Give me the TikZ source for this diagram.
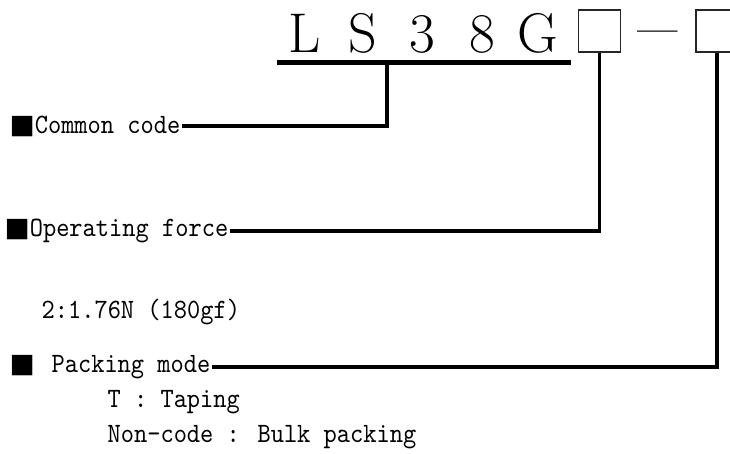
\documentclass[tikz,border=0pt]{standalone}
\usepackage{fontspec}
\newfontfamily\symfont{DejaVu Sans}
\newfontfamily\codefont{lmmono10-regular}[Extension=.otf, FakeStretch=0.9]
\usetikzlibrary{positioning,calc}
\tikzset{
	lbl/.style={
		inner sep=1pt,
		font=\codefont\fontsize{21}{24}\selectfont
	},
	codebox/.style={draw=black!85, line width=1pt, minimum size=31.5pt, inner sep=0pt},
	letter/.style={inner sep=0pt, anchor=base, font=\fontsize{42}{46}\selectfont},
	lead/.style={line width=2.3pt, black}
}
\newcommand{\sqmark}{{\symfont\fontsize{20}{22}\selectfont ■}}

\begin{document}
\begin{tikzpicture}[x=0.75pt, y=-0.75pt]
		\useasboundingbox (0,0) rectangle (730,453);
		% part number
		\foreach \ch/\xc [count=\i] in {L/305,S/363,3/422,8/482,G/538}
			\node[letter] (c\i) at (\xc,52) {\ch};
		\coordinate (barL) at (277,62.5);
		\coordinate (barR) at (571,62.5);
		\coordinate (tap) at (387,62.5);
		\draw[line width=3.75pt] (barL) -- (barR);
		\node[codebox] (gbox) at (599.5,31) {};
		\node[inner sep=0pt, anchor=base, font=\bfseries\fontsize{27}{27}\selectfont] (dash) at (657.5,41.5) {---};
		\node[codebox] (pbox) at (717,31) {};
		% legend
		\node[lbl, anchor=west] (common) at (8,126) {\sqmark Common code};
		\draw[lead] (common.east) -| (tap);
		\node[lbl, anchor=west] (force) at (3,231) {\sqmark Operating force};
		\draw[lead] (force.east) -| (gbox.south);
		\node[lbl, anchor=base west] (forceval) at (40,318) {2:1.76N (180gf)};
		\node[lbl, anchor=west] (packing) at (8,367) {\sqmark\hspace{0.6em}Packing mode};
		\draw[lead] (packing.east) -| (pbox.south);
		\node[lbl, anchor=west] (taping) at (106,402) {T : Taping};
		\node[lbl, anchor=west] (bulk) at (106,437) {Non-code : Bulk packing};
	\end{tikzpicture}
\end{document}
